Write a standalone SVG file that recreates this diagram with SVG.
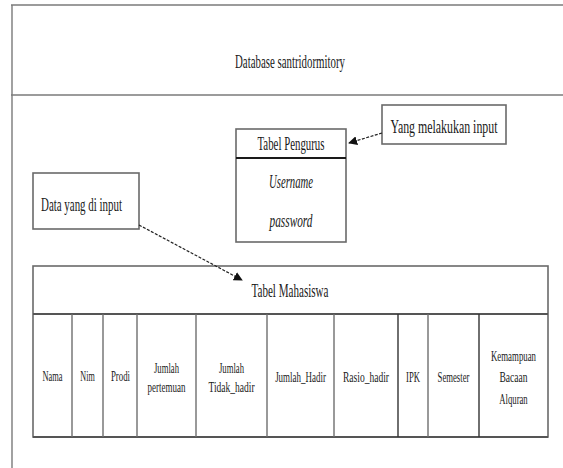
<svg xmlns="http://www.w3.org/2000/svg" width="563" height="468" viewBox="0 0 563 468">
  <style>
    .frame { fill: none; stroke: #7a7a7a; stroke-width: 1.4; }
    .box { fill: #ffffff; stroke: #6a6a6a; stroke-width: 1.6; }
    .rule { stroke: #6e6e6e; stroke-width: 1.4; }
    .rule-dark { stroke: #333333; stroke-width: 1.4; }
    .sep { stroke: #1a1a1a; stroke-width: 2; }
    .t { font-family: "Liberation Serif", "Times New Roman", serif; fill: #1a1a1a; text-anchor: middle; }
    .col { font-size: 14px; }
    .it { font-style: italic; }
    .link { fill: none; stroke: #222222; stroke-width: 1.2; stroke-dasharray: 3 1.5; }
  </style>
  <defs>
    <marker id="arrow" viewBox="0 0 10 10" refX="9" refY="5" markerWidth="9" markerHeight="9" markerUnits="userSpaceOnUse" orient="auto">
      <path d="M0,0 L10,5 L0,10 z" fill="#111111"/>
    </marker>
  </defs>

  <rect x="0" y="0" width="563" height="468" fill="#ffffff"/>

  <!-- page frame and title band -->
  <g id="frame">
    <line class="frame" x1="11" y1="5" x2="563" y2="5"/>
    <line class="frame" x1="12" y1="5" x2="12" y2="468"/>
    <line class="frame" x1="11" y1="95" x2="563" y2="95"/>
    <text class="t" x="290" y="68" font-size="18.5" textLength="110" lengthAdjust="spacingAndGlyphs">Database santridormitory</text>
  </g>

  <!-- admin table -->
  <g id="tabel-pengurus">
    <rect class="box" x="236" y="129" width="110" height="113"/>
    <line class="sep" x1="236" y1="158" x2="346" y2="158"/>
    <text class="t" x="291" y="150" font-size="18.5" textLength="67" lengthAdjust="spacingAndGlyphs">Tabel Pengurus</text>
    <text class="t it" x="291" y="188" font-size="18" textLength="44" lengthAdjust="spacingAndGlyphs">Username</text>
    <text class="t it" x="291" y="227" font-size="18" textLength="43" lengthAdjust="spacingAndGlyphs">password</text>
  </g>

  <!-- note: who enters the data -->
  <g id="note-pengurus">
    <rect class="box" x="382" y="105" width="124" height="39"/>
    <text class="t" x="444" y="133" font-size="18" textLength="107" lengthAdjust="spacingAndGlyphs">Yang melakukan input</text>
  </g>

  <!-- note: data being entered -->
  <g id="note-data">
    <rect class="box" x="33" y="173" width="106" height="56"/>
    <text class="t" x="81.5" y="211" font-size="18" textLength="81" lengthAdjust="spacingAndGlyphs">Data yang di input</text>
  </g>

  <!-- student table -->
  <g id="tabel-mahasiswa">
    <rect class="box" x="33" y="266" width="515" height="171"/>
    <line class="sep" x1="33" y1="314" x2="548" y2="314" style="stroke:#555555"/>
    <line class="sep" x1="33" y1="437" x2="548" y2="437" style="stroke:#555555"/>
    <text class="t" x="290" y="297" font-size="18.5" textLength="77" lengthAdjust="spacingAndGlyphs">Tabel Mahasiswa</text>

    <line class="rule" x1="72" y1="314" x2="72" y2="437"/>
    <line class="rule" x1="103" y1="314" x2="103" y2="437"/>
    <line class="rule" x1="137" y1="314" x2="137" y2="437"/>
    <line class="rule" x1="196" y1="314" x2="196" y2="437"/>
    <line class="rule" x1="267" y1="314" x2="267" y2="437"/>
    <line class="rule" x1="334" y1="314" x2="334" y2="437"/>
    <line class="rule-dark" x1="398" y1="314" x2="398" y2="437"/>
    <line class="rule" x1="428" y1="314" x2="428" y2="437"/>
    <line class="rule-dark" x1="479" y1="314" x2="479" y2="437"/>

    <!-- column names, set in a narrow (horizontally squeezed) serif -->
    <text class="t col" transform="translate(52.5,381) scale(0.6,1)">Nama</text>
    <text class="t col" transform="translate(87.5,381) scale(0.58,1)">Nim</text>
    <text class="t col" transform="translate(120.5,381) scale(0.63,1)">Prodi</text>
    <text class="t col" transform="translate(166.5,373) scale(0.62,1)">Jumlah</text>
    <text class="t col" transform="translate(166.5,392) scale(0.64,1)">pertemuan</text>
    <text class="t col" transform="translate(231.5,373) scale(0.62,1)">Jumlah</text>
    <text class="t col" transform="translate(231.5,392) scale(0.68,1)">Tidak_hadir</text>
    <text class="t col" transform="translate(300.5,382) scale(0.64,1)">Jumlah_Hadir</text>
    <text class="t col" transform="translate(366,382) scale(0.68,1)">Rasio_hadir</text>
    <text class="t col" transform="translate(413,382) scale(0.62,1)">IPK</text>
    <text class="t col" transform="translate(453.5,382) scale(0.62,1)">Semester</text>
    <text class="t col" transform="translate(513.5,361) scale(0.63,1)">Kemampuan</text>
    <text class="t col" transform="translate(513.5,382) scale(0.68,1)">Bacaan</text>
    <text class="t col" transform="translate(513.5,404) scale(0.62,1)">Alquran</text>
  </g>

  <!-- dashed pointers -->
  <g id="connectors">
    <line class="link" x1="382" y1="133" x2="349" y2="143" marker-end="url(#arrow)"/>
    <line class="link" x1="139" y1="225" x2="242" y2="280" marker-end="url(#arrow)"/>
  </g>
</svg>
